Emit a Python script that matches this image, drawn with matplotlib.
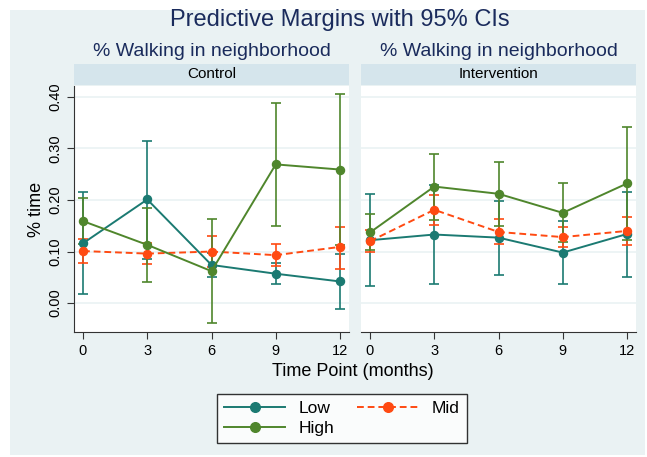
import matplotlib.pyplot as plt
from matplotlib.patches import Rectangle
import numpy as np

plt.rcParams['font.family'] = ['Liberation Sans', 'DejaVu Sans']

months = [0, 3, 6, 9, 12]
panels = ["Control", "Intervention"]

# Control
ctrl_low = [0.116, 0.201, 0.074, 0.057, 0.042]
ctrl_low_lo = [0.018, 0.086, 0.050, 0.037, -0.011]
ctrl_low_hi = [0.216, 0.315, 0.098, 0.077, 0.095]
ctrl_mid = [0.101, 0.096, 0.100, 0.093, 0.109]
ctrl_mid_lo = [0.078, 0.076, 0.070, 0.072, 0.067]
ctrl_mid_hi = [0.124, 0.117, 0.130, 0.114, 0.147]
ctrl_high = [0.159, 0.113, 0.062, 0.269, 0.259]
ctrl_high_lo = [0.115, 0.041, -0.039, 0.150, 0.112]
ctrl_high_hi = [0.203, 0.184, 0.164, 0.388, 0.406]

# Intervention
int_low = [0.122, 0.133, 0.127, 0.098, 0.134]
int_low_lo = [0.034, 0.037, 0.055, 0.037, 0.050]
int_low_hi = [0.211, 0.229, 0.198, 0.159, 0.216]
int_mid = [0.120, 0.181, 0.138, 0.128, 0.140]
int_mid_lo = [0.099, 0.152, 0.114, 0.108, 0.113]
int_mid_hi = [0.141, 0.210, 0.164, 0.148, 0.167]
int_high = [0.137, 0.226, 0.212, 0.175, 0.232]
int_high_lo = [0.103, 0.162, 0.150, 0.118, 0.122]
int_high_hi = [0.172, 0.290, 0.274, 0.232, 0.342]

c_low = "#1b7a72"
c_mid = "#ff4a12"
c_high = "#4f862c"
bg = "#eaf2f3"
strip = "#d5e5ec"
navy = "#1a2b5c"

W, H = 647, 457
fig = plt.figure(figsize=(W / 100, H / 100), dpi=100)
fig.patches.append(Rectangle((10 / W, 2 / H), 635 / W, 445 / H, transform=fig.transFigure,
                             facecolor=bg, edgecolor="none", zorder=-10))

fig.text(340 / W, 1 - 20 / H, "Predictive Margins with 95% CIs", ha="center", va="center",
         fontsize=17, color=navy)

data = [
    [(ctrl_low, ctrl_low_lo, ctrl_low_hi), (ctrl_mid, ctrl_mid_lo, ctrl_mid_hi), (ctrl_high, ctrl_high_lo, ctrl_high_hi)],
    [(int_low, int_low_lo, int_low_hi), (int_mid, int_mid_lo, int_mid_hi), (int_high, int_high_lo, int_high_hi)],
]
styles = [("Low", c_low, "-"), ("Mid", c_mid, (0, (3.5, 2))), ("High", c_high, "-")]

lefts = [74, 361]
rights = [349, 636]
handles = {}
for i, name in enumerate(panels):
    x0, x1 = lefts[i], rights[i]
    ax = fig.add_axes([x0 / W, (H - 332) / H, (x1 - x0) / W, 246 / H])
    ax.set_facecolor("white")
    ax.set_xlim(-0.42, 12.42)
    ax.set_ylim(-0.056, 0.421)
    ax.set_yticks([0, 0.1, 0.2, 0.3, 0.4])
    ax.set_xticks(months)
    ax.grid(axis="y", color=bg, lw=1.2)
    ax.set_axisbelow(True)
    for s in ["top", "right"]:
        ax.spines[s].set_visible(False)
    ax.spines["bottom"].set_color("#333333")
    ax.spines["left"].set_color("#333333")
    ax.tick_params(axis="x", labelsize=10.5, colors="#333333", labelcolor="black", length=5)
    if i == 0:
        ax.set_yticklabels(["0.00", "0.10", "0.20", "0.30", "0.40"], rotation=90, va="center")
        ax.tick_params(axis="y", labelsize=10.5, colors="#333333", labelcolor="black", length=5)
        ax.set_ylabel("% time", fontsize=13, labelpad=2)
    else:
        ax.spines["left"].set_visible(False)
        ax.tick_params(axis="y", left=False, labelleft=False)
    for (vals, lo, hi), (lab, col, ls) in zip(data[i], styles):
        vals = np.array(vals)
        err = [vals - np.array(lo), np.array(hi) - vals]
        ax.errorbar(months, vals, yerr=err, fmt="none", ecolor=col, elinewidth=1.2,
                    capsize=3.5, capthick=1.2, zorder=2)
        h, = ax.plot(months, vals, color=col, ls=ls, lw=1.4, marker="o", ms=5.8, zorder=3)
        handles[lab] = h
    # strip
    fig.patches.append(Rectangle((x0 / W, (H - 85) / H), (x1 - x0) / W, 21 / H,
                                 transform=fig.transFigure, facecolor=strip, edgecolor="none"))
    fig.text((x0 + x1) / 2 / W, (H - 74.5) / H, name, ha="center", va="center", fontsize=11)
    fig.text((x0 + x1) / 2 / W, (H - 52) / H, "% Walking in neighborhood", ha="center",
             va="center", fontsize=14, color=navy)

fig.text(353 / W, (H - 371) / H, "Time Point (months)", ha="center", va="center", fontsize=13)

leg = fig.legend([handles["Low"], handles["High"], handles["Mid"]], ["Low", "High", "Mid"],
                 ncol=2, loc="upper center", bbox_to_anchor=(342 / W, (H - 385) / H),
                 fontsize=12.5, handlelength=3.5, columnspacing=1.3, frameon=True,
                 fancybox=False, edgecolor="black", borderpad=0.4, labelspacing=0.3,
                 markerscale=1.2)
leg.get_frame().set_linewidth(1.0)

fig.savefig("out.png", dpi=100)
